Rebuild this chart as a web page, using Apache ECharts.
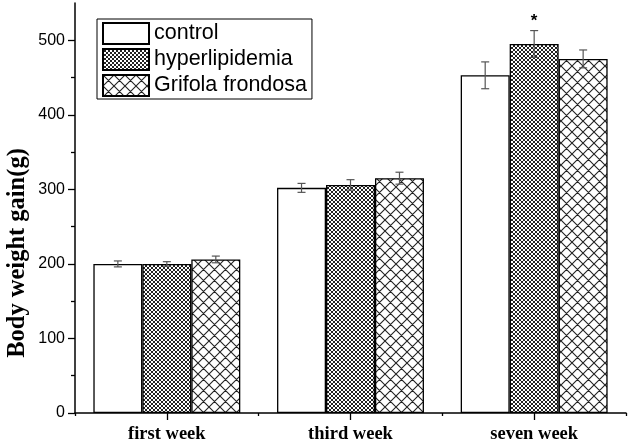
<!DOCTYPE html>
<html>
<head>
<meta charset="utf-8">
<script src="https://cdn.jsdelivr.net/npm/echarts@6/dist/echarts.min.js"></script>
<style>html,body{margin:0;padding:0;background:#fff}#c{width:630px;height:445px}</style>
</head>
<body>
<div id="c"></div>
<script>
const categories = ['first week', 'third week', 'seven week'];
const seriesNames = ['control', 'hyperlipidemia', 'Grifola frondosa'];
const controlVals = [200, 302, 453];
const controlErr = [4, 6, 18];
const hyperVals = [200, 306, 495];
const hyperErr = [3, 7, 18];
const grifolaVals = [206, 315, 475];
const grifolaErr = [4.5, 8, 12];
const hyperSig = ['', '', '*'];
const yTicks = [0, 100, 200, 300, 400, 500];
const yMinorTicks = [50, 150, 250, 350, 450];

function makePattern(size, lw, color) {
  const c = document.createElement('canvas');
  c.width = size; c.height = size;
  const ctx = c.getContext('2d');
  ctx.fillStyle = '#fff';
  ctx.fillRect(0, 0, size, size);
  ctx.strokeStyle = color;
  ctx.lineWidth = lw;
  ctx.beginPath();
  for (let k = -1; k <= 1; k++) {
    ctx.moveTo(k * size - 1, -1); ctx.lineTo(k * size + size + 1, size + 1);
    ctx.moveTo(k * size + size + 1, -1); ctx.lineTo(k * size - 1, size + 1);
  }
  ctx.stroke();
  return { image: c, repeat: 'repeat' };
}

const fills = ['#ffffff', makePattern(4, 1, '#222'), makePattern(11, 1.1, '#222')];
const valsAll = [controlVals, hyperVals, grifolaVals];
const errAll = [controlErr, hyperErr, grifolaErr];
const sigAll = [['', '', ''], hyperSig, ['', '', '']];

const series = [];
valsAll.forEach((vals, k) => {
  series.push({
    name: seriesNames[k],
    type: 'bar',
    data: vals,
    barGap: '0%',
    barCategoryGap: '20%',
    itemStyle: { color: fills[k], borderColor: '#000', borderWidth: 1.3 },
    emphasis: { disabled: true },
    z: 2
  });
});
valsAll.forEach((vals, k) => {
  series.push({
    type: 'custom',
    data: vals.map((v, i) => [i, v, errAll[k][i]]),
    z: 5,
    silent: true,
    renderItem: function (params, api) {
      const ci = api.value(0), v = api.value(1), e = api.value(2);
      const p = api.coord([ci, v]);
      const band = api.size([1, 0])[0];
      const bw = band * 0.8 / 3;
      const x = p[0] + (k - 1) * bw;
      const top = api.coord([ci, v + e])[1];
      const bot = api.coord([ci, v - e])[1];
      const st = { stroke: '#555', lineWidth: 1.2 };
      const children = [
        { type: 'line', shape: { x1: x, y1: top, x2: x, y2: bot }, style: st },
        { type: 'line', shape: { x1: x - 4, y1: top, x2: x + 4, y2: top }, style: st },
        { type: 'line', shape: { x1: x - 4, y1: bot, x2: x + 4, y2: bot }, style: st }
      ];
      const s = sigAll[k][params.dataIndex];
      if (s) {
        children.push({ type: 'text', style: { text: s, x: x, y: top - 1, align: 'center', verticalAlign: 'bottom', font: 'bold 17px Arial, "Liberation Sans"', fill: '#000' } });
      }
      return { type: 'group', children: children };
    }
  });
});

const chart = echarts.init(document.getElementById('c'), null, { renderer: 'canvas' });
chart.setOption({
  animation: false,
  backgroundColor: '#fff',
  grid: { left: 75, right: 4, top: 3, bottom: 32, containLabel: false },
  legend: {
    orient: 'vertical', left: 97, top: 19,
    data: seriesNames,
    itemWidth: 46, itemHeight: 21, itemGap: 3,
    padding: [3, 5, 2, 5],
    borderColor: '#000', borderWidth: 1,
    icon: 'rect',
    textStyle: { fontFamily: 'Arial, "Liberation Sans"', fontSize: 21.5, color: '#000' }
  },
  xAxis: [{
    type: 'category', data: categories, boundaryGap: true, position: 'bottom',
    axisLine: { lineStyle: { color: '#000', width: 1.5 } },
    axisTick: { show: true, length: 3, lineStyle: { color: '#000', width: 1.3 } },
    axisLabel: { color: '#000', fontFamily: '"Times New Roman", "Liberation Serif", serif', fontWeight: 'bold', fontSize: 18.5, margin: 12 },
    splitLine: { show: false }
  }, {
    type: 'category', data: categories, boundaryGap: true, position: 'bottom', offset: 0,
    axisLine: { show: false },
    axisTick: { show: true, alignWithLabel: true, length: 7, lineStyle: { color: '#000', width: 1.3 } },
    axisLabel: { show: false },
    splitLine: { show: false }
  }],
  yAxis: [{
    type: 'value', min: 0, max: 550, interval: 100, position: 'left',
    axisLine: { show: true, lineStyle: { color: '#000', width: 1.5 } },
    axisTick: { show: true, length: 7, customValues: yTicks, lineStyle: { color: '#000', width: 1.3 } },
    axisLabel: { customValues: yTicks, color: '#000', fontFamily: 'Arial, "Liberation Sans"', fontSize: 16, margin: 10 },
    splitLine: { show: false }
  }, {
    type: 'value', min: 0, max: 550, position: 'left', offset: 0,
    axisLine: { show: false },
    axisTick: { show: true, length: 4, customValues: yMinorTicks, lineStyle: { color: '#000', width: 1.3 } },
    axisLabel: { show: false },
    splitLine: { show: false }
  }],
  graphic: [{
    type: 'text', x: 18, y: 253, rotation: Math.PI / 2,
    style: { text: 'Body weight gain(g)', align: 'center', verticalAlign: 'middle', font: 'bold 24.5px "Times New Roman", "Liberation Serif", serif', fill: '#000' }
  }],
  series: series
});
</script>
</body>
</html>
